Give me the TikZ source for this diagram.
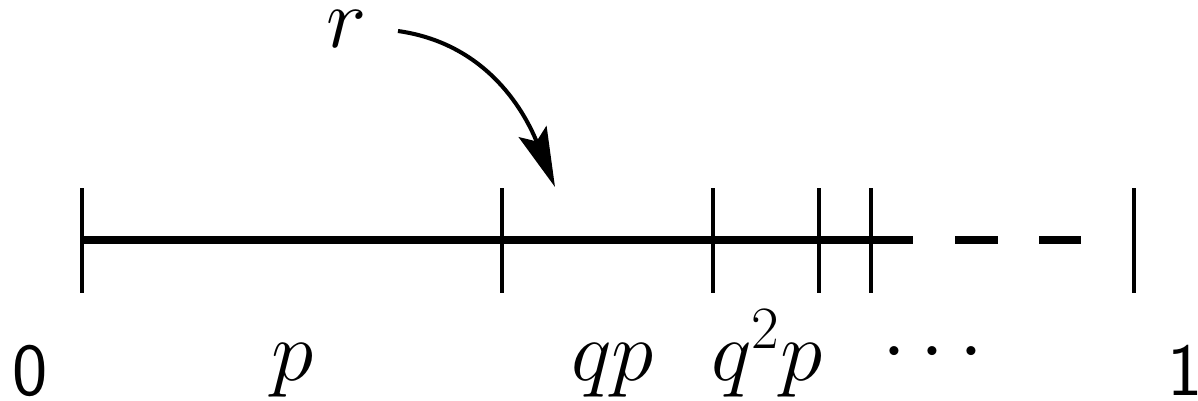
\RequirePackage{fix-cm}
\documentclass[tikz,border=0pt]{standalone}
\usetikzlibrary{arrows.meta}
\begin{document}
\begin{tikzpicture}[x=0.02cm,y=-0.02cm,
  lbl/.style={inner sep=0pt,outer sep=0pt,anchor=base,font=\fontsize{48.8}{58}\selectfont},
  num/.style={inner sep=0pt,outer sep=0pt,anchor=base,font=\fontsize{42.6}{50}\selectfont\sffamily},
  tick/.style={line width=2.3pt},
  axis/.style={line width=4.5pt},
]
\useasboundingbox (0,0) rectangle (1198,400);
% tick coordinates
\foreach \n/\x in {t0/82,t1/502,t2/713,t3/819,t4/871,te/1134}{
  \coordinate (\n top) at (\x,188);
  \coordinate (\n bot) at (\x,293);
  \coordinate (\n) at (\x,240);
}
\coordinate (solidend) at (913,240);
\coordinate (d1s) at (955,240);
\coordinate (d1e) at (998,240);
\coordinate (d2s) at (1039,240);
\coordinate (d2e) at (1081,240);
\draw[axis] (t0) -- (solidend);
\draw[axis] (d1s) -- (d1e);
\draw[axis] (d2s) -- (d2e);
\foreach \n in {t0,t1,t2,t3,t4,te}{
  \draw[tick] (\n top) -- (\n bot);
}
% labels
\node[num] (zero) at (30,395) {0};
\node[num] (one) at (1185,395) {1};
\node[lbl] (p) at (293,380) {$p$};
\node[lbl] (qp) at (613,380) {$qp$};
\node[lbl] (qqp) at (767,380) {$q^2p$};
\node[lbl] (dots) at (933,372) {$\cdots$};
\node[lbl] (r) at (347,47) {$r$};
\coordinate (astart) at (398,31);
\coordinate (aend) at (555,187);
\draw[line width=2.3pt,-{Stealth[length=34pt,width=17pt,inset=6pt]}] (astart) to[out=-8,in=112] (aend);
\end{tikzpicture}
\end{document}
